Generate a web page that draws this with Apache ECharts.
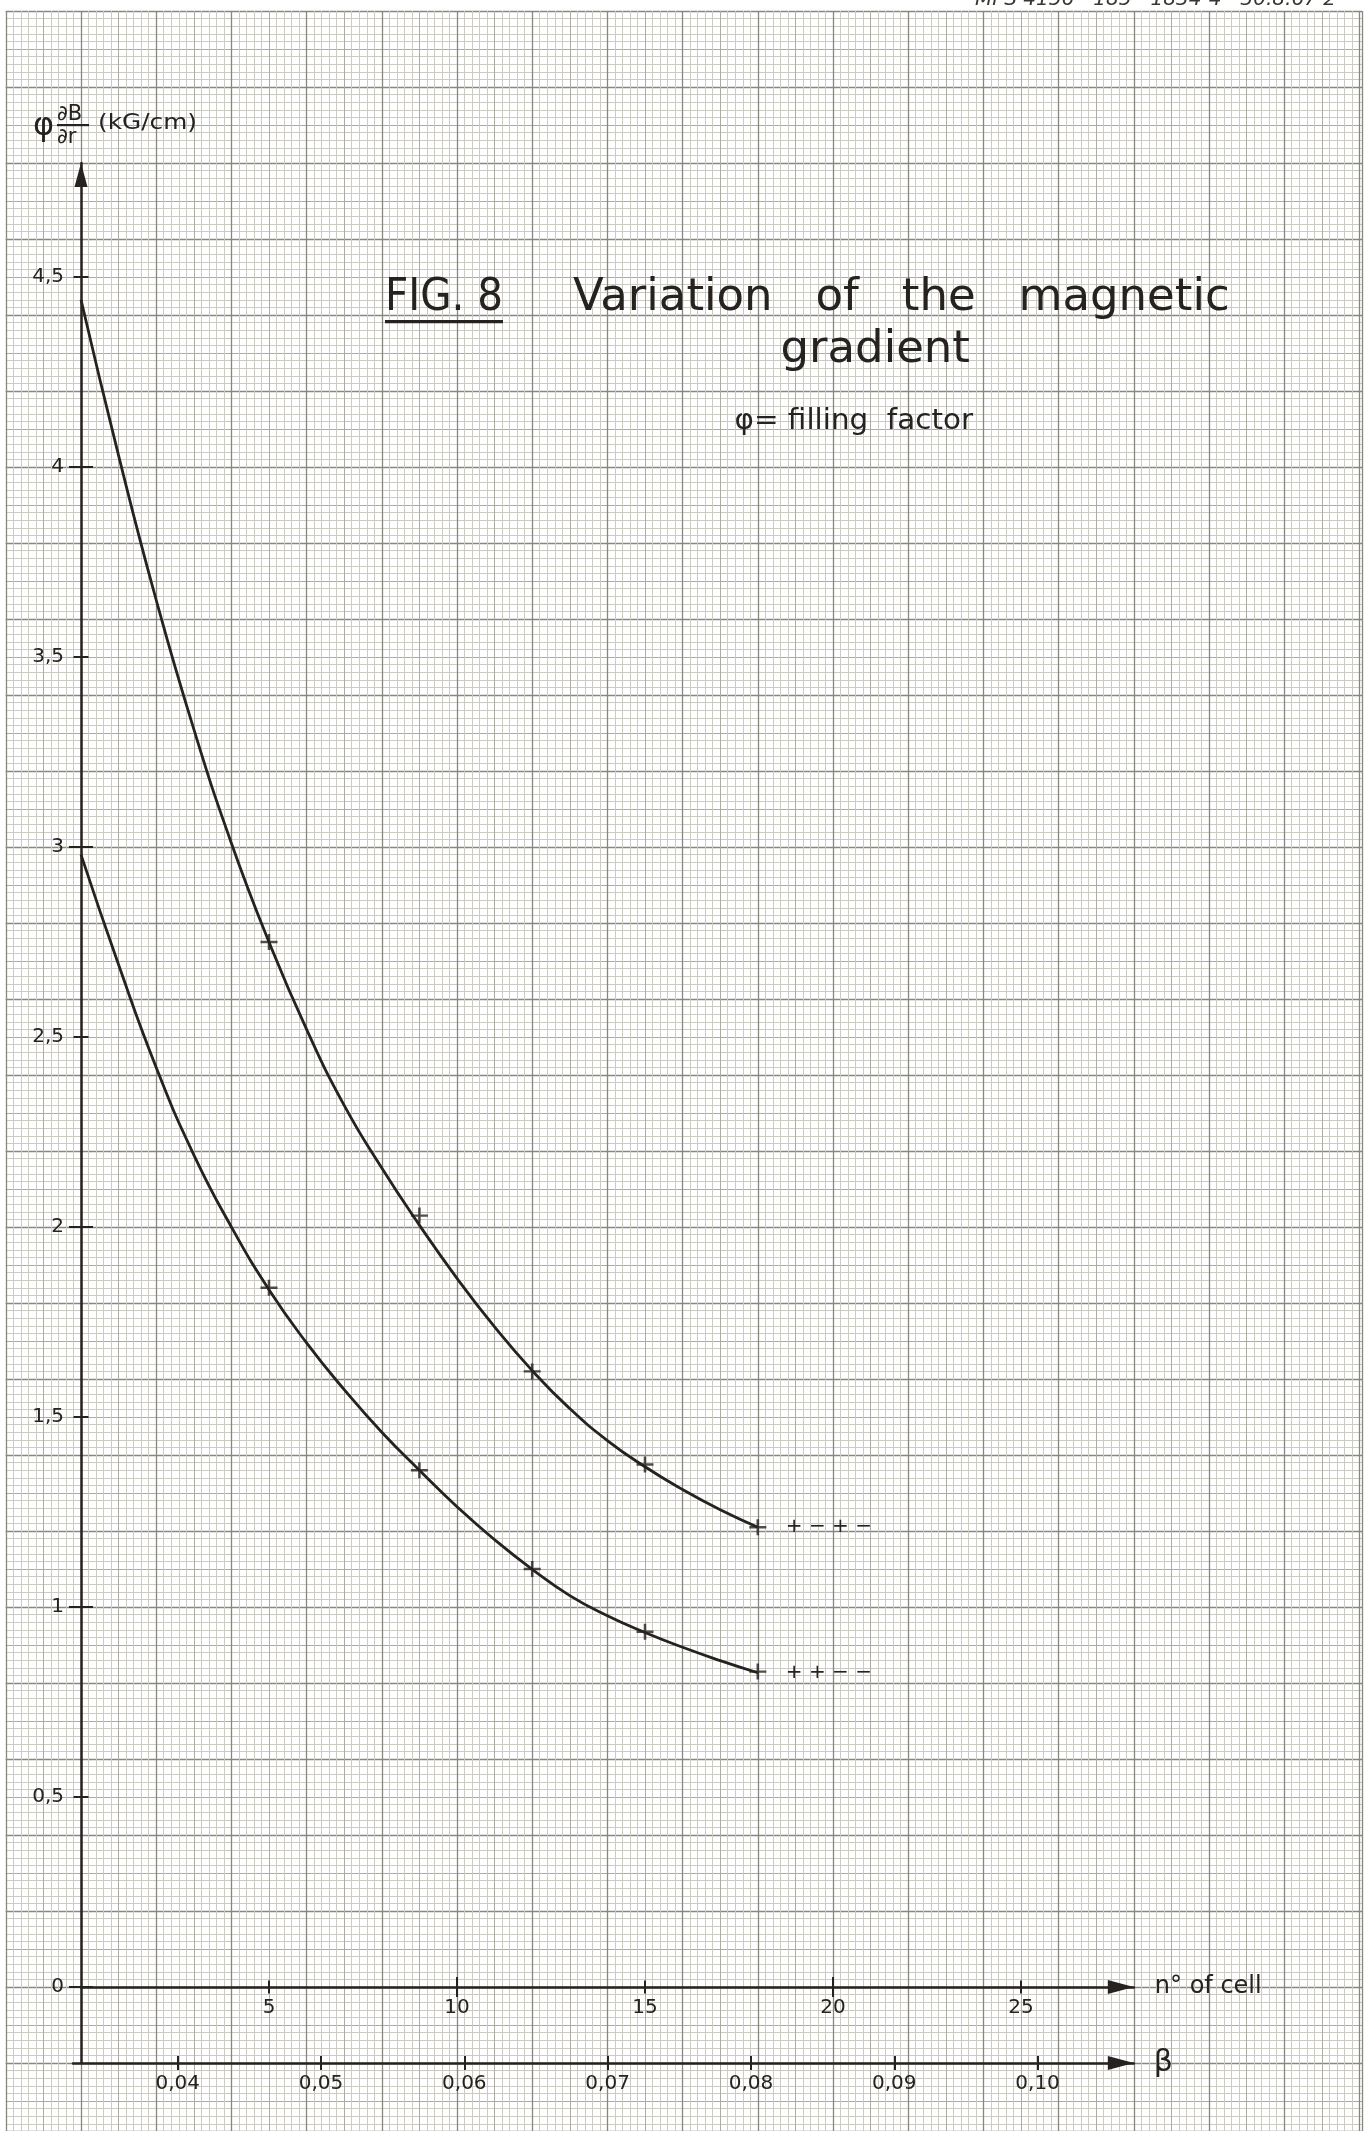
<!DOCTYPE html>
<html>
<head>
<meta charset="utf-8">
<title>FIG. 8 Variation of the magnetic gradient</title>
<script src="https://cdn.jsdelivr.net/npm/echarts@6/dist/echarts.min.js"></script>
<style>
  html, body { margin: 0; padding: 0; background: #ffffff; }
  #chart { width: 1370px; height: 2131px; }
</style>
</head>
<body>
<div id="chart"></div>
<script>
// Cell numbers at which the gradient was computed
const cellNumbers = [5, 9, 12, 15, 18];
// φ·∂B/∂r (kG/cm), +−+− lattice
const gradientPMPM = [2.75, 2.03, 1.62, 1.375, 1.21];
// φ·∂B/∂r (kG/cm), ++−− lattice
const gradientPPMM = [1.84, 1.36, 1.10, 0.935, 0.83];

// Hand-drawn curves through the points, read cell by cell
const curveCells = [0, 1, 2, 3, 4, 5, 6, 7, 8, 9, 10, 11, 12, 13, 14, 15, 16, 17, 18];
const curvePMPM = [4.44, 4.03, 3.65, 3.31, 3.01, 2.75, 2.52, 2.32, 2.155, 2.005, 1.865, 1.737, 1.622, 1.522, 1.438, 1.369, 1.309, 1.256, 1.21];
const curvePPMM = [2.98, 2.69, 2.42, 2.19, 2.0, 1.835, 1.695, 1.572, 1.46, 1.36, 1.264, 1.177, 1.099, 1.03, 0.977, 0.933, 0.894, 0.859, 0.827];

// Axis tick values
const yLabelValues = [0, 0.5, 1, 1.5, 2, 2.5, 3, 3.5, 4, 4.5];
const yWholeTicks = [0, 1, 2, 3, 4];
const yHalfTicks = [0.5, 1.5, 2.5, 3.5, 4.5];
const cellLabelValues = [5, 10, 15, 20, 25];
const cellShortTicks = [5, 15, 25];
const cellLongTicks = [10, 20];
const betaTickValues = [0.04, 0.05, 0.06, 0.07, 0.08, 0.09, 0.10];

const ink = '#26221f';
const family = '"DejaVu Sans", sans-serif';
const font = (size, style) => (style ? style + ' ' : '') + size + 'px ' + family;
const decimalComma = v => String(v).replace('.', ',');
const pairs = (xs, ys) => xs.map((x, i) => [x, ys[i]]);

// Main plot frame (cell axis at its bottom edge)
const plotLeft = 81, plotTop = 163, plotWidth = 1052.8, plotHeight = 1824;
const yMax = 4.8, cellMax = 28;
// Strip below the plot that carries the β scale
const betaLeft = 73, betaWidth = 1060.8, betaHeight = 76;
const betaMin = 0.032694, betaMax = 0.106715;

// Millimetre paper
const paperLeft = 5.8, paperTop = 11, paperRight = 1362, paperBottom = 2131;
const cmX = 75.2, cmY = 76;
const paperWidthCm = (paperRight - paperLeft) / cmX;
const paperHeightCm = (paperBottom - paperTop) / cmY;
const lineMinor = '#cccbc3', lineMid = '#adaca4', lineMajor = '#88877f';

const tickStyle = { color: ink, width: 2 };
const hidden = { show: false };

function yAxisCopy(ticks, len, inside, extra) {
  return Object.assign({
    type: 'value', gridIndex: 0, min: 0, max: yMax, position: 'left', z: 2,
    axisLine: { show: false, onZero: false },
    axisTick: { show: true, inside: inside, customValues: ticks, length: len, lineStyle: tickStyle },
    axisLabel: hidden, splitLine: hidden
  }, extra || {});
}
function cellAxisCopy(ticks, len, inside, extra) {
  return Object.assign({
    type: 'value', gridIndex: 0, min: 0, max: cellMax, position: 'bottom', z: 2,
    axisLine: { show: false, onZero: false },
    axisTick: { show: true, inside: inside, customValues: ticks, length: len, lineStyle: tickStyle },
    axisLabel: hidden, splitLine: hidden
  }, extra || {});
}
function paperAxis(dim, max, interval, color, width, minor) {
  const a = {
    type: 'value', gridIndex: 2, min: 0, max: max, interval: interval, z: 0, silent: true,
    axisLine: { show: false, onZero: false }, axisTick: hidden, axisLabel: hidden,
    splitLine: { show: true, lineStyle: { color: color, width: width } }
  };
  if (dim === 'y') a.inverse = true;
  if (minor) {
    a.minorTick = { show: false, splitNumber: 5 };
    a.minorSplitLine = { show: true, lineStyle: { color: lineMinor, width: 1 } };
  }
  return a;
}

const axisArrow = (w, h) => ({ symbol: ['none', 'triangle'], symbolSize: [w, h], symbolOffset: [0, -h / 2] });

const plusSymbol = 'path://M8.5,0H11.5V8.5H20V11.5H11.5V20H8.5V11.5H0V8.5H8.5Z';

const curveSeries = (name, values, signs) => ({
  name: name, type: 'line', xAxisIndex: 0, yAxisIndex: 0, z: 3,
  data: pairs(curveCells, values),
  smooth: 0.5, symbol: 'none', silent: true,
  lineStyle: { color: ink, width: 2.8 },
  endLabel: { show: true, formatter: () => signs, distance: 28, color: ink, fontSize: 20, fontFamily: family }
});
const pointSeries = (name, values) => ({
  name: name, type: 'scatter', xAxisIndex: 0, yAxisIndex: 0, z: 4,
  data: pairs(cellNumbers, values),
  symbol: plusSymbol, symbolSize: [17, 16], itemStyle: { color: ink }
});

const option = {
  animation: false,
  backgroundColor: '#ffffff',
  grid: [
    { left: plotLeft, top: plotTop, width: plotWidth, height: plotHeight },
    { left: betaLeft, top: plotTop + plotHeight, width: betaWidth, height: betaHeight },
    { left: paperLeft, top: paperTop, width: paperRight - paperLeft, height: paperBottom - paperTop }
  ],
  xAxis: [
    cellAxisCopy(cellShortTicks, 6.5, false, {
      axisLine: Object.assign({ show: true, onZero: false, lineStyle: { color: ink, width: 2.5 } }, axisArrow(14, 26)),
      axisLabel: { show: true, customValues: cellLabelValues, margin: 11, color: ink, fontSize: 20, fontFamily: family },
      name: 'n° of cell', nameLocation: 'end', nameGap: 21,
      nameTextStyle: { color: ink, fontSize: 24, fontFamily: family }
    }),
    cellAxisCopy(cellShortTicks, 6.5, true),
    cellAxisCopy(cellLongTicks, 10, false),
    cellAxisCopy(cellLongTicks, 10, true),
    {
      type: 'value', gridIndex: 1, min: betaMin, max: betaMax, position: 'bottom', z: 2,
      axisLine: Object.assign({ show: true, onZero: false, lineStyle: { color: ink, width: 2.5 } }, axisArrow(14, 26)),
      axisTick: { show: true, customValues: betaTickValues, length: 7, lineStyle: tickStyle },
      axisLabel: { show: true, customValues: betaTickValues, margin: 11, color: ink, fontSize: 20, fontFamily: family,
                   formatter: v => v.toFixed(2).replace('.', ',') },
      splitLine: hidden,
      name: 'β', nameLocation: 'end', nameGap: 20,
      nameTextStyle: { color: ink, fontSize: 30, fontFamily: family, padding: [56, 0, 0, 0] }
    },
    {
      type: 'value', gridIndex: 1, min: betaMin, max: betaMax, position: 'bottom', z: 2,
      axisLine: { show: false, onZero: false },
      axisTick: { show: true, inside: true, customValues: betaTickValues, length: 7, lineStyle: tickStyle },
      axisLabel: hidden, splitLine: hidden
    },
    paperAxis('x', paperWidthCm, 0.5, lineMid, 1, true),
    paperAxis('x', paperWidthCm, 1, lineMajor, 1.3, false)
  ],
  yAxis: [
    yAxisCopy(yWholeTicks, 12, false, {
      axisLine: Object.assign({ show: true, onZero: false, lineStyle: { color: ink, width: 2.5 } }, axisArrow(13, 24)),
      axisLabel: { show: true, customValues: yLabelValues, margin: 17, color: ink, fontSize: 20, fontFamily: family,
                   formatter: decimalComma }
    }),
    yAxisCopy(yWholeTicks, 12, true),
    yAxisCopy(yHalfTicks, 7.5, false),
    yAxisCopy(yHalfTicks, 7.5, true),
    // continuation of the vertical axis down to the β scale
    {
      type: 'value', gridIndex: 1, min: 0, max: 1, position: 'left', offset: -8, z: 2,
      axisLine: { show: true, onZero: false, lineStyle: { color: ink, width: 2.5 } },
      axisTick: hidden, axisLabel: hidden, splitLine: hidden
    },
    paperAxis('y', paperHeightCm, 0.5, lineMid, 1, true),
    paperAxis('y', paperHeightCm, 1, lineMajor, 1.3, false)
  ],
  series: [
    curveSeries('+−+−', curvePMPM, '+ − + −'),
    curveSeries('++−−', curvePPMM, '+ + − −'),
    pointSeries('+−+− points', gradientPMPM),
    pointSeries('++−− points', gradientPPMM)
  ],
  graphic: [
    { type: 'text', x: 975, y: 0, z: 10,
      style: { text: 'MPS 4156 · 185 · 1834-4 · 30.8.67 2', font: font(20, 'italic'), fill: '#3a3633', textVerticalAlign: 'middle' } },
    // title block
    { type: 'text', x: 385, y: 298.5, z: 10, scaleX: 0.9,
      style: { text: 'FIG. 8', font: font(45), fill: ink, textVerticalAlign: 'middle' } },
    { type: 'rect', z: 10, shape: { x: 385, y: 320, width: 118, height: 3.2 }, style: { fill: ink } },
    { type: 'text', x: 573, y: 298.5, z: 10,
      style: { text: 'Variation   of   the   magnetic', font: font(45), fill: ink, textVerticalAlign: 'middle' } },
    { type: 'text', x: 970, y: 350.3, z: 10,
      style: { text: 'gradient', font: font(45), fill: ink, textAlign: 'right', textVerticalAlign: 'middle' } },
    { type: 'text', x: 973, y: 421.5, z: 10, scaleX: 1.05,
      style: { text: 'φ= filling  factor', font: font(28), fill: ink, textAlign: 'right', textVerticalAlign: 'middle' } },
    // vertical axis title  φ ∂B/∂r (kG/cm)
    { type: 'text', x: 33, y: 127, z: 10,
      style: { text: 'φ', font: font(32), fill: ink, textVerticalAlign: 'middle' } },
    { type: 'text', x: 57, y: 114.5, z: 10,
      style: { text: '∂B', font: font(21), fill: ink, textVerticalAlign: 'middle' } },
    { type: 'rect', z: 10, shape: { x: 57, y: 124, width: 32, height: 2.2 }, style: { fill: ink } },
    { type: 'text', x: 57, y: 138, z: 10,
      style: { text: '∂r', font: font(21), fill: ink, textVerticalAlign: 'middle' } },
    { type: 'text', x: 98, y: 123.5, z: 10, scaleX: 1.18,
      style: { text: '(kG/cm)', font: font(21), fill: ink, textVerticalAlign: 'middle' } }
  ]
};

const chart = echarts.init(document.getElementById('chart'), null, { renderer: 'canvas' });
chart.setOption(option);
</script>
</body>
</html>
